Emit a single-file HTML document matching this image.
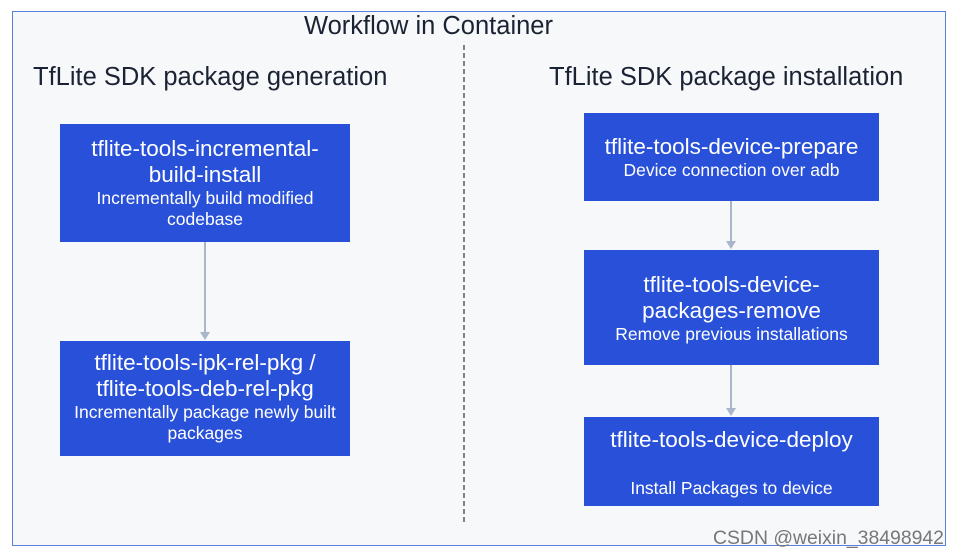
<!DOCTYPE html>
<html><head><style>
body{margin:0;width:958px;height:557px;background:#fff;position:relative;font-family:"Liberation Sans",Arial,sans-serif;overflow:hidden}
.frame{position:absolute;left:12px;top:11px;width:932px;height:533px;border:1px solid #5b7fdc;background:#f7f8fa}
.t{position:absolute;color:#1a2233;white-space:nowrap}
.b{position:absolute;background:#2850d8;color:#fff;text-align:center;box-sizing:border-box;white-space:nowrap}
.m{font-size:22.5px;line-height:26px}
.s{font-size:17.5px;line-height:21px}
.wm{position:absolute;left:713px;top:527px;font-size:19.4px;color:#777}
</style></head><body>
<div class="frame"></div>
<div class="t" style="left:304px;top:12px;font-size:25.5px">Workflow in Container</div>
<div class="t" style="left:33px;top:63px;font-size:25.5px">TfLite SDK package generation</div>
<div class="t" style="left:549px;top:63px;font-size:25.5px">TfLite SDK package installation</div>
<svg style="position:absolute;left:0;top:0" width="958" height="557">
<line x1="464" y1="45" x2="464" y2="523" stroke="#333" stroke-width="1.2" stroke-dasharray="5,3"/>
<g stroke="#a9b6c9" stroke-width="2" fill="#a9b6c9">
<line x1="205" y1="242" x2="205" y2="333"/><polygon points="200,332 210,332 205,340" stroke="none"/>
<line x1="731" y1="201" x2="731" y2="242"/><polygon points="726,241 736,241 731,249" stroke="none"/>
<line x1="731" y1="365" x2="731" y2="409"/><polygon points="726,408 736,408 731,416" stroke="none"/>
</g></svg>
<div class="b" style="left:60px;top:124px;width:290px;height:118px;padding-top:12px"><div class="m">tflite-tools-incremental-<br>build-install</div><div class="s">Incrementally build modified<br>codebase</div></div>
<div class="b" style="left:60px;top:341px;width:290px;height:115px;padding-top:9px"><div class="m">tflite-tools-ipk-rel-pkg /<br>tflite-tools-deb-rel-pkg</div><div class="s">Incrementally package newly built<br>packages</div></div>
<div class="b" style="left:584px;top:113px;width:295px;height:88px;padding-top:21px"><div class="m">tflite-tools-device-prepare</div><div class="s">Device connection over adb</div></div>
<div class="b" style="left:584px;top:250px;width:295px;height:115px;padding-top:22px"><div class="m">tflite-tools-device-<br>packages-remove</div><div class="s">Remove previous installations</div></div>
<div class="b" style="left:584px;top:417px;width:295px;height:89px;padding-top:10px"><div class="m">tflite-tools-device-deploy</div><div class="s" style="margin-top:25px">Install Packages to device</div></div>
<div class="wm">CSDN @weixin_38498942</div>
</body></html>
